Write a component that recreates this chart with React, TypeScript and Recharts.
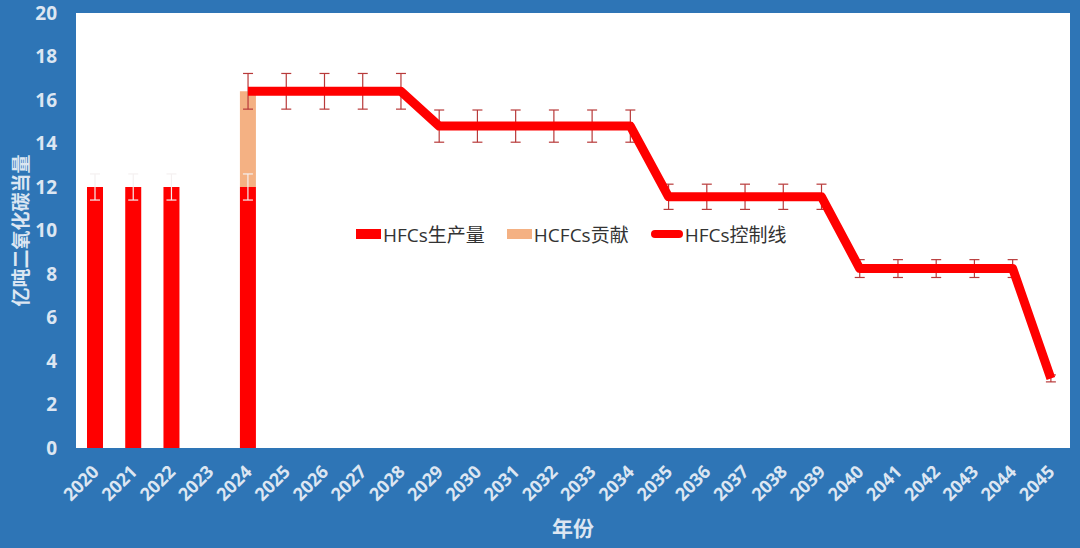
import React from 'react';
import {
  ComposedChart, Bar, Line, XAxis, YAxis, CartesianGrid, Legend, ErrorBar, Label,
} from 'recharts';

const years = ['2020','2021','2022','2023','2024','2025','2026','2027','2028','2029','2030','2031','2032','2033','2034','2035','2036','2037','2038','2039','2040','2041','2042','2043','2044','2045'];
const hfcsProduction = [12, 12, 12, null, 12, null, null, null, null, null, null, null, null, null, null, null, null, null, null, null, null, null, null, null, null, null];
const hfcsProductionError = [0.6, 0.6, 0.6, null, 0.6, null, null, null, null, null, null, null, null, null, null, null, null, null, null, null, null, null, null, null, null, null];
const hcfcsContribution = [null, null, null, null, 4.4, null, null, null, null, null, null, null, null, null, null, null, null, null, null, null, null, null, null, null, null, null];
const controlLine = [null, null, null, null, 16.4, 16.4, 16.4, 16.4, 16.4, 14.8, 14.8, 14.8, 14.8, 14.8, 14.8, 11.55, 11.55, 11.55, 11.55, 11.55, 8.25, 8.25, 8.25, 8.25, 8.25, 3.2];
const controlLineError = [null, null, null, null, 0.82, 0.82, 0.82, 0.82, 0.82, 0.74, 0.74, 0.74, 0.74, 0.74, 0.74, 0.58, 0.58, 0.58, 0.58, 0.58, 0.41, 0.41, 0.41, 0.41, 0.41, 0.16];
const yTicks = [0, 2, 4, 6, 8, 10, 12, 14, 16, 18, 20];

const data = years.map((y, i) => ({
  year: y,
  hfcs: hfcsProduction[i],
  hfcsErr: hfcsProductionError[i],
  hcfcs: hcfcsContribution[i],
  control: controlLine[i],
  controlErr: controlLineError[i],
}));

const BG = '#2E75B6';
const LIGHT = '#DCE6F2';
const FONT = '"Open Sans", "Noto Sans CJK SC", sans-serif';

const XTick = (props: any) => {
  const { x, y, payload } = props;
  const tx = x + 5;
  const ty = y + 17;
  return (
    <text
      x={tx}
      y={ty}
      transform={`rotate(-45 ${tx} ${ty})`}
      textAnchor="end"
      fill={LIGHT}
      fontSize={18}
      fontWeight="bold"
      fontFamily={FONT}
    >
      {payload.value}
    </text>
  );
};

const LegendContent = () => {
  const items = [
    { label: 'HFCs生产量', kind: 'rect', color: '#FF0000' },
    { label: 'HCFCs贡献', kind: 'rect', color: '#F4B183' },
    { label: 'HFCs控制线', kind: 'line', color: '#FF0000' },
  ];
  return (
    <div style={{ display: 'flex', alignItems: 'center', fontFamily: FONT, fontSize: 19, color: '#333', whiteSpace: 'nowrap' }}>
      {items.map((it) => (
        <div key={it.label} style={{ display: 'flex', alignItems: 'center', marginRight: 22 }}>
          <svg width={it.kind === 'line' ? 32 : 25} height={12} style={{ marginRight: 2 }}>
            {it.kind === 'rect' ? (
              <rect x={0} y={1} width={25} height={10} fill={it.color} />
            ) : (
              <line x1={4} y1={6} x2={28} y2={6} stroke={it.color} strokeWidth={8} strokeLinecap="round" />
            )}
          </svg>
          <span>{it.label}</span>
        </div>
      ))}
    </div>
  );
};

export default function App() {
  return (
    <div style={{ position: 'absolute', left: 0, top: 0, width: 1080, height: 548, background: BG }}>
      <ComposedChart
        width={1080}
        height={548}
        data={data}
        margin={{ top: 13, right: 10, left: 30, bottom: 0 }}
        barSize={16}
        barGap={0}
      >
        <CartesianGrid fill="#FFFFFF" horizontal={false} vertical={false} stroke="none" />
        <XAxis
          dataKey="year"
          axisLine={false}
          tickLine={false}
          interval={0}
          height={100}
          tick={<XTick />}
        >
          <Label
            value="年份"
            position="insideBottom"
            offset={12}
            fill={LIGHT}
            fontSize={21}
            fontWeight="bold"
            fontFamily={FONT}
          />
        </XAxis>
        <YAxis
          domain={[0, 20]}
          ticks={yTicks}
          axisLine={false}
          tickLine={false}
          tickMargin={13}
          width={46}
          tick={{ fill: LIGHT, fontSize: 19, fontWeight: 'bold', fontFamily: FONT }}
        >
          <Label
            value="亿吨二氧化碳当量"
            angle={-90}
            position="insideLeft"
            offset={-9}
            fill={LIGHT}
            fontSize={19}
            fontWeight="bold"
            fontFamily={FONT}
            style={{ textAnchor: 'middle' }}
          />
        </YAxis>
        <Legend
          layout="horizontal"
          verticalAlign="middle"
          align="center"
          content={<LegendContent />}
          wrapperStyle={{ position: 'absolute', left: 356, top: 220, width: 480, height: 26 }}
        />
        <Bar dataKey="hfcs" stackId="a" fill="#FF0000" isAnimationActive={false}>
          <ErrorBar dataKey="hfcsErr" direction="y" width={5} stroke="#F4F0F0" strokeWidth={1.2} />
        </Bar>
        <Bar dataKey="hcfcs" stackId="a" fill="#F4B183" isAnimationActive={false} />
        <Line
          dataKey="control"
          type="linear"
          stroke="#FF0000"
          strokeWidth={9}
          strokeLinejoin="round"
          dot={false}
          activeDot={false}
          isAnimationActive={false}
        >
          <ErrorBar dataKey="controlErr" direction="y" width={5} stroke="#B83A3A" strokeWidth={1.2} />
        </Line>
      </ComposedChart>
    </div>
  );
}
